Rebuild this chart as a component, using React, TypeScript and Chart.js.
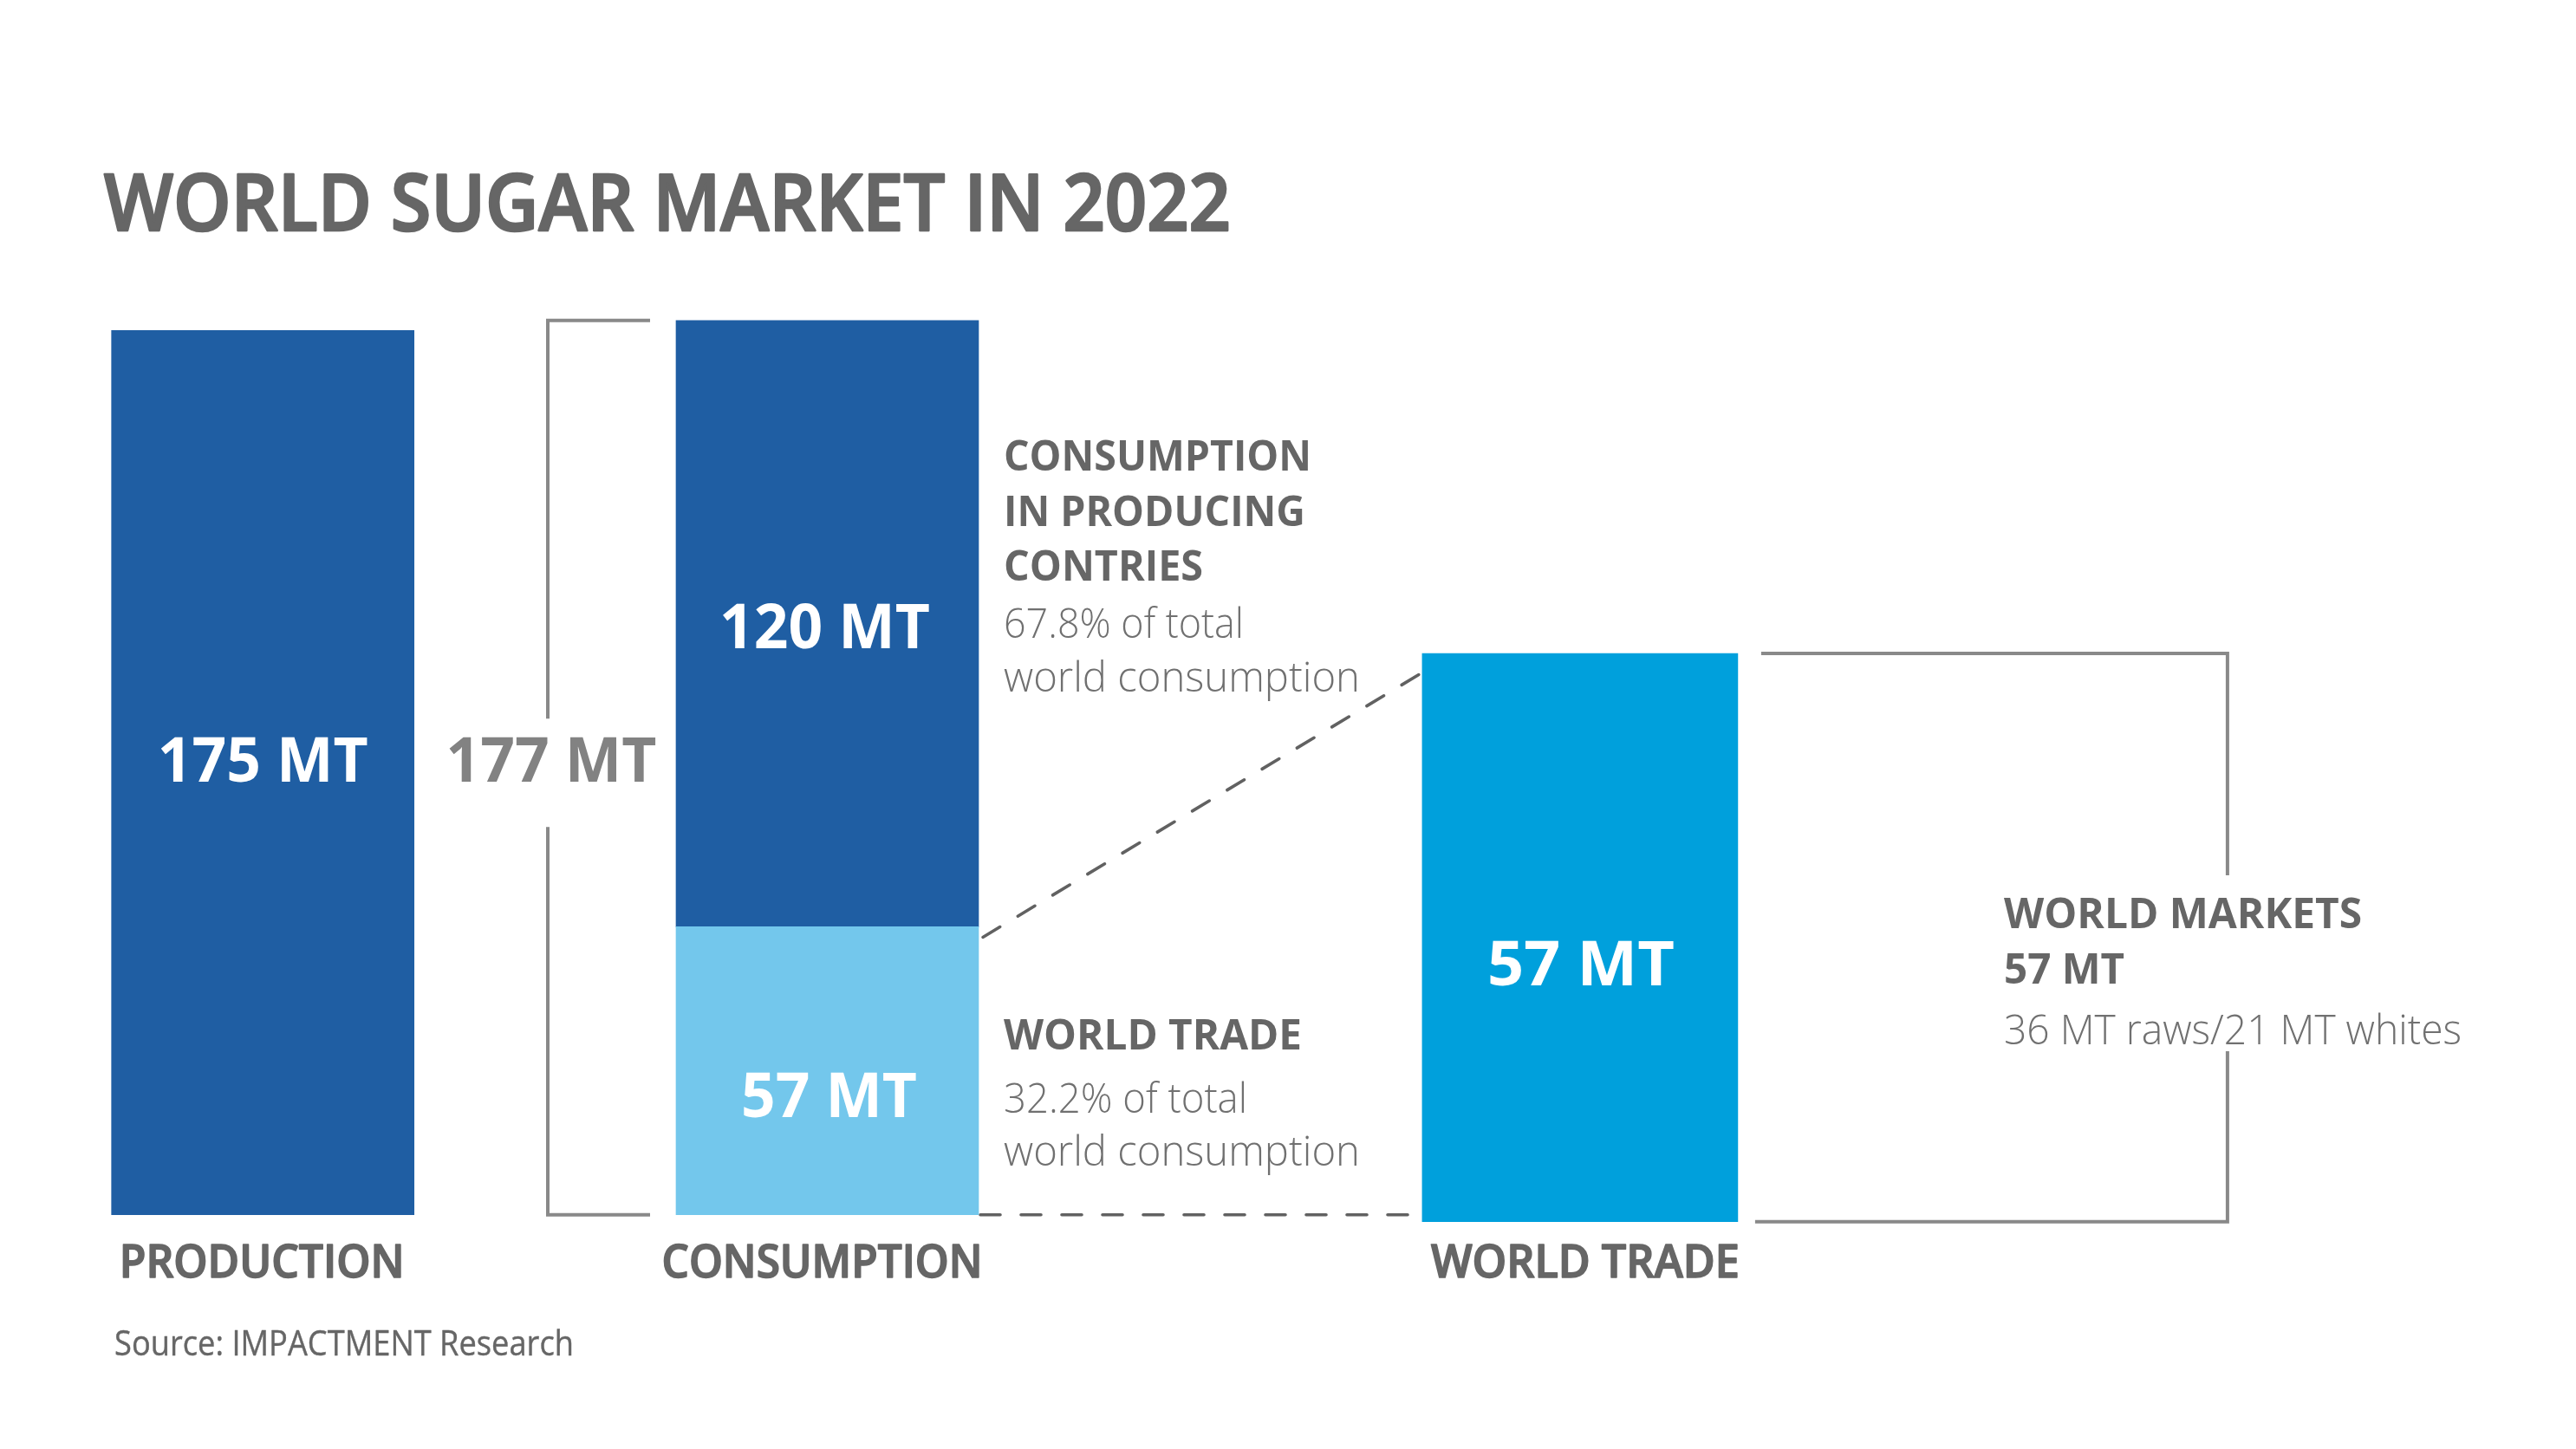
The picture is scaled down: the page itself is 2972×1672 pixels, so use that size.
import React, { useEffect, useRef } from "react";
import { Chart, registerables } from "chart.js";

Chart.register(...registerables);

// ---------------- data ----------------
const chartTitle = "WORLD SUGAR MARKET IN 2022";
const categories = ["PRODUCTION", "CONSUMPTION", "WORLD TRADE"];
const categorySlots = [0, 3, 7]; // position of each category on the x axis
const production = [175];
const consumptionInProducing = [120];
const consumptionWorldTrade = [57];
const worldTrade = [57];
const worldMarketsRaws = [36];
const worldMarketsWhites = [21];
const sourceNote = "Source: IMPACTMENT Research";

// ---------------- style ----------------
const W = 2972;
const H = 1672;
const DARK = "#1f5ea3";
const LIGHT = "#73c7ec";
const TRADE = "#00a0dc";
const GREY_TEXT = "#666666";
const LIGHT_TEXT = "#707070";
const LINE = "#898989";
const DASH = "#616161";
const FONT = '"Open Sans", "Noto Sans", sans-serif';

type Box = { x: number; y: number; base: number; width: number };

function barBox(chart: any, ds: number): Box {
  const el = chart.getDatasetMeta(ds).data[0];
  const p = el.getProps(["x", "y", "base", "width"], true);
  return { x: p.x, y: p.y, base: p.base, width: p.width };
}

// draws text horizontally fitted to a given width
function fitText(
  ctx: CanvasRenderingContext2D,
  str: string,
  x: number,
  y: number,
  font: string,
  color: string,
  width: number,
  align: "left" | "center" = "left",
  stroke = 0
) {
  ctx.save();
  ctx.font = font;
  ctx.fillStyle = color;
  ctx.textBaseline = "alphabetic";
  ctx.textAlign = "left";
  const m = ctx.measureText(str).width;
  const s = width / m;
  const left = align === "center" ? x - width / 2 : x;
  ctx.translate(left, y);
  ctx.scale(s, 1);
  ctx.fillText(str, 0, 0);
  if (stroke > 0) {
    ctx.strokeStyle = color;
    ctx.lineWidth = stroke;
    ctx.lineJoin = "round";
    ctx.strokeText(str, 0, 0);
  }
  ctx.restore();
}

function line(ctx: CanvasRenderingContext2D, pts: number[][], color: string, lw: number, dash?: number[]) {
  ctx.save();
  ctx.strokeStyle = color;
  ctx.lineWidth = lw;
  if (dash) {
    ctx.setLineDash(dash);
    ctx.lineCap = "round";
  } else {
    ctx.lineCap = "butt";
    ctx.lineJoin = "miter";
  }
  ctx.beginPath();
  ctx.moveTo(pts[0][0], pts[0][1]);
  for (let i = 1; i < pts.length; i++) ctx.lineTo(pts[i][0], pts[i][1]);
  ctx.stroke();
  ctx.restore();
}

const annotations = {
  id: "annotations",
  beforeDatasetsDraw(chart: any) {
    const ctx: CanvasRenderingContext2D = chart.ctx;
    const light = barBox(chart, 1);
    const trade = barBox(chart, 3);
    const lightRight = light.x + light.width / 2;
    const tradeLeft = trade.x - trade.width / 2;
    // diagonal dashed connector
    line(ctx, [[lightRight + 5, light.y + 12], [tradeLeft, trade.y + 22]], DASH, 3.6, [23, 24]);
    // bottom dashed connector
    line(ctx, [[lightRight + 2, light.base], [tradeLeft, light.base]], DASH, 3.6, [23, 24]);
  },
  afterDatasetsDraw(chart: any) {
    const ctx: CanvasRenderingContext2D = chart.ctx;
    const xs = chart.scales.x;
    const prod = barBox(chart, 0);
    const light = barBox(chart, 1);
    const dark = barBox(chart, 2);
    const trade = barBox(chart, 3);

    const total = consumptionInProducing[0] + consumptionWorldTrade[0];
    const boldBig = `700 72px ${FONT}`;

    // title
    fitText(ctx, chartTitle, 120, 266, `600 91px ${FONT}`, GREY_TEXT, 1300, "left", 2.6);

    // values inside bars
    fitText(ctx, `${production[0]} MT`, prod.x, prod.y + (prod.base - prod.y) * 0.51, boldBig, "#ffffff", 243, "center");
    fitText(ctx, `${consumptionInProducing[0]} MT`, dark.x - 3, dark.y + (dark.base - dark.y) * 0.541, boldBig, "#ffffff", 243, "center");
    fitText(ctx, `${consumptionWorldTrade[0]} MT`, light.x + 2, light.y + (light.base - light.y) * 0.662, boldBig, "#ffffff", 203, "center");
    fitText(ctx, `${worldTrade[0]} MT`, trade.x + 1, trade.y + (trade.base - trade.y) * 0.584, boldBig, "#ffffff", 216, "center");

    // bracket for total consumption
    const consLeft = dark.x - dark.width / 2;
    const bx = consLeft - 148;
    const bTop = dark.y;
    const bBottom = light.base;
    const totalBase = bTop + (bBottom - bTop) * 0.516;
    line(ctx, [[consLeft - 30, bTop], [bx, bTop], [bx, totalBase - 73]], LINE, 4);
    line(ctx, [[bx, totalBase + 52], [bx, bBottom], [consLeft - 30, bBottom]], LINE, 4);
    fitText(ctx, `${total} MT`, bx + 4, totalBase, boldBig, "#828282", 243, "center");

    // consumption notes
    const tx = 1158;
    const head = `700 48px ${FONT}`;
    const lightF = `300 47px ${FONT}`;
    const pctProd = ((consumptionInProducing[0] / total) * 100).toFixed(1);
    const pctTrade = ((consumptionWorldTrade[0] / total) * 100).toFixed(1);
    fitText(ctx, "CONSUMPTION", tx, 543, head, GREY_TEXT, 355);
    fitText(ctx, "IN PRODUCING", tx, 607, head, GREY_TEXT, 348);
    fitText(ctx, "CONTRIES", tx, 670, head, GREY_TEXT, 230);
    fitText(ctx, `${pctProd}% of total`, tx, 736, lightF, LIGHT_TEXT, 277);
    fitText(ctx, "world consumption", tx, 798, lightF, LIGHT_TEXT, 411);

    fitText(ctx, "WORLD TRADE", tx, 1211, head, GREY_TEXT, 344);
    fitText(ctx, `${pctTrade}% of total`, tx, 1284, lightF, LIGHT_TEXT, 281);
    fitText(ctx, "world consumption", tx, 1345, lightF, LIGHT_TEXT, 411);

    // world markets bracket
    const tRight = trade.x + trade.width / 2;
    const vx = tRight + 565;
    line(ctx, [[tRight + 27, trade.y], [vx, trade.y], [vx, 1010]], LINE, 4);
    line(ctx, [[vx, 1213], [vx, trade.base], [tRight + 20, trade.base]], LINE, 4);
    const wx = 2312;
    fitText(ctx, "WORLD MARKETS", wx, 1071, head, GREY_TEXT, 413);
    fitText(ctx, `${worldMarketsRaws[0] + worldMarketsWhites[0]} MT`, wx, 1135, head, GREY_TEXT, 139);
    fitText(
      ctx,
      `${worldMarketsRaws[0]} MT raws/${worldMarketsWhites[0]} MT whites`,
      wx,
      1205,
      lightF,
      LIGHT_TEXT,
      528
    );

    // category labels
    const catWidths = [329, 370, 356];
    const catShift = [-1, -6, 6];
    categories.forEach((c, i) => {
      const cx = xs.getPixelForValue(categorySlots[i]) + catShift[i];
      fitText(ctx, c, cx, 1474, `600 52px ${FONT}`, GREY_TEXT, catWidths[i], "center", 1.6);
    });

    // source
    fitText(ctx, sourceNote, 132, 1564, `400 40px ${FONT}`, GREY_TEXT, 530, "left", 0.4);
  },
};

export default function App() {
  const ref = useRef<HTMLCanvasElement>(null);

  useEffect(() => {
    const canvas = ref.current;
    if (!canvas) return;
    const chart = new Chart(canvas, {
      type: "bar",
      data: {
        datasets: [
          {
            label: categories[0],
            data: production.map((v) => ({ x: categorySlots[0], y: v })),
            backgroundColor: DARK,
            barThickness: 349,
            yAxisID: "y",
          },
          {
            label: "World trade (share of consumption)",
            data: consumptionWorldTrade.map((v) => ({ x: categorySlots[1], y: v })),
            backgroundColor: LIGHT,
            barThickness: 349,
            yAxisID: "y",
          },
          {
            label: "Consumption in producing countries",
            data: consumptionInProducing.map((v) => ({ x: categorySlots[1], y: v })),
            backgroundColor: DARK,
            barThickness: 349,
            yAxisID: "y",
          },
          {
            label: categories[2],
            data: worldTrade.map((v) => ({ x: categorySlots[2], y: v })),
            backgroundColor: TRADE,
            barThickness: 364,
            yAxisID: "y2",
          },
        ],
      } as any,
      options: {
        responsive: false,
        animation: false,
        devicePixelRatio: 1,
        layout: { padding: { left: 86.1, right: 932, top: 294, bottom: 258.6 } },
        plugins: {
          legend: { display: false },
          title: { display: false },
          tooltip: { enabled: false },
        },
        scales: {
          x: { type: "linear", min: -1, max: 8, stacked: true, offset: false, display: false },
          y: { type: "linear", min: -2, max: 190, stacked: true, display: false },
          y2: { type: "linear", min: -0.32, max: 97, display: false, position: "right" },
        },
      } as any,
      plugins: [annotations],
    });
    return () => chart.destroy();
  }, []);

  return (
    <div style={{ position: "fixed", left: 0, top: 0, width: W, height: H, background: "#ffffff" }}>
      <canvas ref={ref} width={W} height={H} style={{ display: "block", width: W, height: H }} />
    </div>
  );
}
